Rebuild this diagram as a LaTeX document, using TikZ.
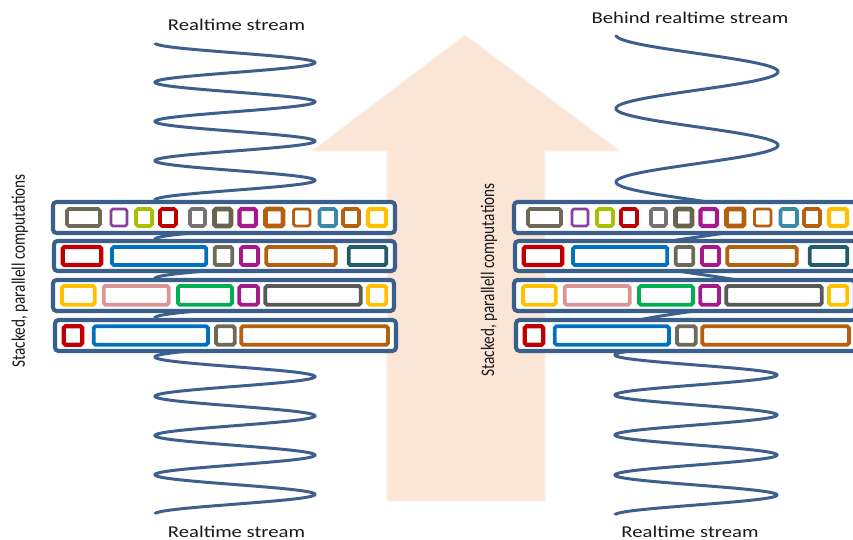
\documentclass[tikz,border=0pt]{standalone}
\usepackage{fontspec}
\setmainfont{Carlito}
\definecolor{streamblue}{HTML}{3E5F8E}
\definecolor{frameblue}{HTML}{3A5F8B}
\definecolor{arrowpeach}{HTML}{FBE5D6}
\definecolor{jobolive}{HTML}{6D6A58}
\definecolor{jobdarkolive}{HTML}{67644F}
\definecolor{jobpurple}{HTML}{8B3F9C}
\definecolor{joblime}{HTML}{A5C100}
\definecolor{jobred}{HTML}{C00000}
\definecolor{jobgray}{HTML}{737373}
\definecolor{jobmagenta}{HTML}{A5198C}
\definecolor{jobbrown}{HTML}{B5600E}
\definecolor{jobteal}{HTML}{3B8AA5}
\definecolor{jobyellow}{HTML}{FFC000}
\definecolor{jobblue}{HTML}{0070C0}
\definecolor{jobdarkteal}{HTML}{225B69}
\definecolor{jobpink}{HTML}{D99694}
\definecolor{jobgreen}{HTML}{00B050}
\definecolor{jobdarkgray}{HTML}{595959}
\tikzset{
  stream/.style={draw=streamblue, line width=1.7pt},
  bigarrow/.style={fill=arrowpeach, draw=arrowpeach!50!white, line width=0.6pt},
  frame/.style={draw=frameblue, fill=white, line width=2.3pt, rounded corners=2pt},
  job/.style={draw=#1, fill=white, rounded corners=1pt},
  streamlabel/.style={font=\fontsize{9.4}{11}\selectfont, text=black!90, inner sep=0pt, anchor=base},
  stacklabel/.style={font=\fontsize{8.7}{10}\selectfont, text=black!90, inner sep=0pt, anchor=base, rotate=90},
}
\begin{document}
\begin{tikzpicture}[x=0.02cm, y=-0.02cm]
\fill[white] (0,0) rectangle (853,540);
\useasboundingbox (0,0) rectangle (853,540);

% Big arrow behind everything
\draw[bigarrow] (465,35) -- (620,151) -- (545,151) -- (545,501) -- (387,501)
  -- (387,151) -- (312,151) -- cycle;

% Left stream: realtime from top to bottom
\draw[stream] plot[variable=\t, domain=43:514, samples=900]
  ({235-80*cos((\t-43)/19.625*180)}, \t);

% Right stream: behind realtime on top, realtime below
\draw[stream] plot[variable=\t, domain=35:336, samples=500]
  ({697-81*cos((\t-35)/36.75*180)}, \t)
  -- plot[variable=\t, domain=336:515, samples=400]
  ({696-81*cos((\t-355)/20*180)}, \t);

% The two stacks of parallel computations
\foreach \sx in {0,461} {
\begin{scope}[shift={(\sx,0)}]
  \draw[frame] (53,202) rectangle (395,233);
  \draw[frame] (54,241) rectangle (395,271);
  \draw[frame] (53,280) rectangle (394,311);
  \draw[frame] (55,320) rectangle (396,351);
  % row 1
  \foreach \xa/\xb/\col/\lw in {67/100/jobolive/2, 111/127/jobpurple/1.5,
      136/152/joblime/2, 160/176/jobred/2, 190/205/jobgray/2,
      214.5/231/jobdarkolive/2.8, 239.5/256/jobmagenta/2.4,
      265.5/283/jobbrown/2.8, 293.5/310/jobbrown/1.6, 319.5/336/jobteal/2,
      343/359/jobbrown/2, 368/386/jobyellow/2.4}
    \draw[job=\col, line width=\lw pt] (\xa,209) rectangle (\xb,226);
  % row 2
  \foreach \xa/\xb/\col/\lw in {62.7/101.3/jobred/2.4, 112/206.3/jobblue/2.2,
      214.7/232.3/jobolive/2.2, 241/258/jobmagenta/2.2,
      266.3/335.7/jobbrown/2.2, 348.7/386.3/jobdarkteal/2.2}
    \draw[job=\col, line width=\lw pt] (\xa,247) rectangle (\xb,265);
  % row 3
  \foreach \xa/\xb/\col/\lw in {62/94.7/jobyellow/2.2, 103.7/168.7/jobpink/2.2,
      178/232/jobgreen/2.2, 239.3/258/jobmagenta/2.2,
      265.3/360.7/jobdarkgray/2.2, 368/386.3/jobyellow/2.2}
    \draw[job=\col, line width=\lw pt] (\xa,286) rectangle (\xb,304.7);
  % row 4
  \foreach \xa/\xb/\col/\lw in {63.7/82.3/jobred/2.4, 93.7/208/jobblue/2.2,
      216/234.7/jobolive/2.2, 241.3/388/jobbrown/2.2}
    \draw[job=\col, line width=\lw pt] (\xa,326.3) rectangle (\xb,344.7);
\end{scope}
}

% Labels
\node[streamlabel] (lefttop) at (236.5,31) {\scalebox{1.25}[1]{Realtime stream}};
\node[streamlabel] (leftbottom) at (236.5,538) {\scalebox{1.25}[1]{Realtime stream}};
\node[streamlabel] (righttop) at (690,24) {\scalebox{1.25}[1]{Behind realtime stream}};
\node[streamlabel] (rightbottom) at (690,538) {\scalebox{1.25}[1]{Realtime stream}};
\node[stacklabel] (leftstack) at (25,271) {\scalebox{1}[1.25]{Stacked, parallell computations}};
\node[stacklabel] (midstack) at (494,280) {\scalebox{1}[1.25]{Stacked, parallell computations}};
\end{tikzpicture}
\end{document}
